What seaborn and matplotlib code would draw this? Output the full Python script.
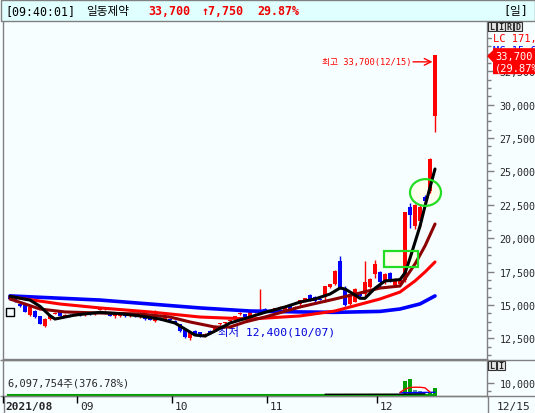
import matplotlib
matplotlib.use("Agg")
import matplotlib.pyplot as plt
from matplotlib.patches import Rectangle, Ellipse, Polygon
from matplotlib.ticker import AutoMinorLocator, FixedLocator, FuncFormatter
import numpy as np
import seaborn as sns

# 일동제약 daily candles, 2021/08 ~ 2021/12/15
opens = [15600, 15450, 15100, 15000, 14250, 14550, 14150, 13450, 13950, 14350,
         14450, 14200, 14250, 14200, 14300, 14250, 14350, 14300, 14650, 14700,
         14450, 14150, 14150, 14250, 14150, 14250, 14100, 14150, 14050, 13800,
         14050, 13900, 13950, 13800, 13550, 13150, 12550, 13050, 12950, 12650,
         13050, 13100, 13550, 13650, 13800, 13950, 14300, 14300, 14200, 14450,
         14450, 14700, 14550, 14500, 14750, 14550, 15000, 14750, 15050, 15250,
         15750, 15600, 15450, 15600, 16350, 16550, 18300, 16300, 15100, 15250,
         15850, 15800, 16350, 17300, 17450, 16700, 17400, 16500, 16600, 16900,
         22300, 20900, 21300, 23100, 23550, 29150]
highs = [15700, 15500, 15150, 15050, 14900, 14600, 14200, 14000, 14200, 14450,
         14500, 14300, 14300, 14350, 14350, 14400, 14400, 14450, 14800, 14850,
         14500, 14250, 14250, 14300, 14300, 14300, 14250, 14200, 14100, 14600,
         14100, 14050, 14000, 13850, 13600, 13200, 13050, 13100, 13000, 12900,
         13100, 13500, 13650, 13750, 13900, 14200, 14500, 14350, 14500, 14550,
         16200, 14750, 14600, 14800, 14900, 14950, 15050, 14900, 15400, 15550,
         15800, 15650, 15500, 16450, 16600, 17600, 18650, 16400, 15850, 16250,
         15900, 18300, 17000, 18400, 17550, 17400, 17500, 17000, 17000, 21950,
         22600, 22550, 22500, 23200, 26000, 33700]
lows = [15350, 15200, 14850, 14450, 14200, 14050, 13550, 13350, 13900, 14300,
        14150, 14150, 14150, 14150, 14200, 14200, 14250, 14250, 14600, 14650,
        14150, 14050, 14100, 14100, 14100, 14100, 14050, 13900, 13850, 13750,
        13900, 13850, 13800, 13550, 13000, 12550, 12400, 12800, 12600, 12600,
        12800, 13050, 13500, 13600, 13750, 13900, 14250, 14050, 14150, 14400,
        14400, 14450, 14450, 14450, 14700, 14500, 14650, 14700, 15000, 15200,
        15300, 15250, 15350, 15250, 16300, 16500, 16200, 14900, 15000, 15200,
        15600, 15700, 16300, 17050, 16300, 16600, 16700, 16400, 16500, 16700,
        20800, 20700, 20850, 22650, 23400, 27950]
closes = [15450, 15300, 14900, 14500, 14850, 14100, 13600, 13950, 14150, 14400,
          14200, 14250, 14200, 14300, 14250, 14350, 14300, 14400, 14700, 14750,
          14200, 14200, 14200, 14150, 14250, 14150, 14200, 13950, 13900, 14100,
          13950, 14000, 13850, 13600, 13050, 12600, 13000, 12850, 12650, 12850,
          12850, 13450, 13600, 13700, 13850, 14150, 14350, 14100, 14450, 14500,
          14600, 14500, 14500, 14750, 14850, 14900, 14700, 14850, 15350, 15500,
          15350, 15300, 15400, 16400, 16550, 17550, 16300, 15000, 15800, 16200,
          15650, 16700, 16950, 18050, 16700, 17300, 16800, 16900, 16900, 21950,
          21700, 22500, 22350, 22750, 25950, 33700]
# volume, thousand shares
volume = [350, 300, 420, 500, 450, 380, 520, 480, 300, 250, 230, 200, 190, 210,
          200, 180, 190, 260, 300, 240, 230, 180, 170, 160, 170, 150, 160, 210, 200, 320,
          190, 170, 180,
          230, 380, 460, 520, 300, 280, 250, 230, 330, 260, 240, 250, 300, 280, 250, 1200,
          260, 900, 350,
          280, 300, 320, 350, 330, 300, 420, 450, 400, 1100, 380, 1200, 1300, 900, 800, 700,
          500, 450, 380, 1100, 600, 700,
          600, 450, 400, 500, 450, 11700, 14000, 4500, 3500, 1500, 2200, 6098]

months = ["2021/08", "09", "10", "11", "12"]
days_in_month = [14, 19, 19, 22, 12]
last_date = "12/15"
hi_date = "12/15"
lo_date = "10/07"
today_volume = 6097754
volume_ratio = 376.78
change = 7750
change_pct = 29.87
limit_text = "LC 171,700"
mc_text = "MC 15,650"

# moving average lines (candle index, price)
ma5_x = [0, 4, 6, 8, 9, 11, 13, 18, 22, 26, 30, 33, 35, 37, 39, 41, 44, 48, 51, 55,
         58, 61, 64, 66, 67, 69, 70, 71, 73, 75, 78, 79, 80, 81, 82, 83, 84, 85]
ma5_y = [15650, 15370, 14900, 14200, 13950, 14100, 14250, 14450, 14350, 14180, 13950,
         13650, 13200, 12750, 12680, 13050, 13650, 14100, 14450, 14850, 15220, 15450,
         15820, 16270, 16200, 15750, 15500, 15500, 16250, 16800, 16900, 17400, 18500,
         19700, 20900, 22400, 23800, 25180]
ma20_x = [0, 6, 11, 18, 26, 32, 36, 41, 44, 47, 51, 58, 65, 70, 74, 78, 81, 83, 85]
ma20_y = [15450, 14700, 14480, 14400, 14330, 14100, 13730, 13350, 13350, 13730, 14100,
          14850, 15450, 15900, 16270, 16420, 18070, 19420, 21060]
ma60_x = [0, 10, 18, 28, 38, 48, 58, 65, 74, 78, 81, 83, 85]
ma60_y = [15620, 15075, 14780, 14480, 14100, 13950, 14180, 14550, 15450, 15970, 16800,
          17470, 18220]
ma120_x = [0, 18, 38, 48, 58, 65, 74, 78, 82, 85]
ma120_y = [15680, 15370, 14780, 14550, 14480, 14450, 14520, 14700, 15080, 15680]

vol_red_x = [78, 79, 80, 81, 82, 83, 84]
vol_red_y = [2500, 5200, 6600, 6800, 6800, 6300, 2800]
vol_blk_x = [63, 78, 83]
vol_blk_y = [900, 1000, 1300]
vol_blu_x = [78, 85]
vol_blu_y = [2200, 2600]

# hand-drawn green marks on the screen
box_x = [74.8, 81.6]
box_y = [17850, 19050]
ring_xy = (83.1, 23420)
ring_wh = (6.2, 2000)
mark_x = [0]
mark_y = [14480]

sns.set_theme(style="white")
plt.rcParams["font.family"] = ["DejaVu Sans Mono", "Noto Sans CJK KR"]

RED = "#ff0000"
BLUE = "#0000ff"
DKRED = "#8b0000"
GRAY = "#808080"
BG = "#f7feff"
GREEN = "#22dd22"

W, H = 535, 414
fig = plt.figure(figsize=(W / 100, H / 100), dpi=100, facecolor=BG)


def rect(x0, y0, x1, y1):
    return [x0 / W, 1 - y1 / H, (x1 - x0) / W, (y1 - y0) / H]


o, h, l, c = map(np.array, (opens, highs, lows, closes))
idx = np.arange(len(c))
col = np.where(c >= o, RED, BLUE)
XL = (-1.4, 95.4)

# price panel
ax = fig.add_axes(rect(3, 22, 487, 360))
ax.set_facecolor(BG)
ax.vlines(idx, l, h, colors=col, lw=1, zorder=3)
ax.bar(idx, np.maximum(np.abs(c - o), 80), bottom=np.minimum(o, c), width=0.65,
       color=col, linewidth=0, zorder=3)
for xs, ys, colr, lw in [(ma120_x, ma120_y, BLUE, 2.6), (ma60_x, ma60_y, RED, 2.2),
                         (ma20_x, ma20_y, DKRED, 2.2), (ma5_x, ma5_y, "black", 2.2)]:
    sns.lineplot(x=xs, y=ys, ax=ax, color=colr, linewidth=lw, zorder=4)

ax.add_patch(Rectangle((box_x[0], box_y[0]), box_x[1] - box_x[0], box_y[1] - box_y[0],
                       facecolor="#fffff0", edgecolor="none", zorder=1))
ax.add_patch(Rectangle((box_x[0], box_y[0]), box_x[1] - box_x[0], box_y[1] - box_y[0],
                       facecolor="none", edgecolor=GREEN, lw=1.6, zorder=6))
ax.add_patch(Ellipse(ring_xy, *ring_wh, facecolor="#fffff0", edgecolor="none", zorder=1))
ax.add_patch(Ellipse(ring_xy, *ring_wh, facecolor="none", edgecolor=GREEN, lw=1.6, zorder=6))
ax.scatter(mark_x, mark_y, marker="s", s=40, facecolors="none", edgecolors="black",
           linewidths=1, zorder=5)

hi = int(np.argmax(h))
lo = int(np.argmin(l))
ya = h[hi] - 500
ax.annotate("", xy=(hi - 0.5, ya), xytext=(hi - 4.4, ya),
            arrowprops=dict(arrowstyle="->", color=RED, lw=1, shrinkA=0, shrinkB=0))
ax.text(hi - 4.6, ya, f"최고 {h[hi]:,}({hi_date})", color=RED, fontsize=6.3,
        ha="right", va="center")
ax.text(lo + 5.6, l[lo] + 700, f"최저 {l[lo]:,}({lo_date})", color="#0000dd",
        fontsize=8.2, ha="left", va="center", zorder=3.5)

ax.set_xlim(*XL)
ax.set_ylim(10958, 36257)
ax.set_xticks([])
ax.yaxis.tick_right()
ax.set_yticks(np.arange(12500, 36000, 2500))
ax.yaxis.set_major_formatter(FuncFormatter(lambda v, p: f"{int(v):,}"))
ax.yaxis.set_minor_locator(AutoMinorLocator(4))
ax.tick_params(axis="y", which="both", right=True, left=False, labelright=True,
               labelleft=False, color=GRAY, width=1)
ax.tick_params(axis="y", which="major", length=5, pad=4, labelsize=7.2)
ax.tick_params(axis="y", which="minor", length=3)
ax.spines["top"].set_visible(False)
for s in ["left", "right", "bottom"]:
    ax.spines[s].set_color(GRAY)
    ax.spines[s].set_linewidth(1)
ax.set_xlabel("")
ax.set_ylabel("")

# volume panel
vx = fig.add_axes(rect(3, 361, 487, 397))
vx.set_facecolor(BG)
vol = np.array(volume)
vcol = ["#00a000" if i == 0 or vol[i] >= vol[i - 1] else "#4f9a9a" for i in idx]
vx.bar(idx, vol, width=0.65, color=vcol, linewidth=0, zorder=3)
vx.hlines(0, -0.5, len(vol) - 0.5, color="#00a000", lw=1.5, zorder=3)
sns.lineplot(x=vol_blk_x, y=vol_blk_y, ax=vx, color="black", linewidth=1, zorder=4)
sns.lineplot(x=vol_blu_x, y=vol_blu_y, ax=vx, color=BLUE, linewidth=1, zorder=4)
sns.lineplot(x=vol_red_x, y=vol_red_y, ax=vx, color=RED, linewidth=1, zorder=4)
vx.set_xlim(*XL)
vx.set_ylim(-500, 29500)
vx.set_xticks([])
vx.yaxis.tick_right()
vx.set_yticks([10000])
vx.yaxis.set_major_formatter(FuncFormatter(lambda v, p: f"{int(v):,}"))
vx.yaxis.set_minor_locator(FixedLocator([4000]))
vx.tick_params(axis="y", which="both", right=True, left=False, labelright=True,
               labelleft=False, color=GRAY, width=1)
vx.tick_params(axis="y", which="major", length=5, pad=4, labelsize=7.2)
vx.tick_params(axis="y", which="minor", length=3)
for s in vx.spines.values():
    s.set_color(GRAY)
    s.set_linewidth(1)
vx.set_xlabel("")
vx.set_ylabel("")

# overlay in screen pixels (top-left origin)
ov = fig.add_axes([0, 0, 1, 1], zorder=10)
ov.set_xlim(0, W)
ov.set_ylim(H, 0)
ov.axis("off")
ov.patch.set_alpha(0)

ov.add_patch(Rectangle((0.5, 0.5), W - 1, 21.5, facecolor="#e0ffff", edgecolor=GRAY, lw=1))
hy = 11.5
ov.text(5, hy, "[09:40:01]", va="center", fontsize=8.4, color="black")
ov.text(86, hy, "일동제약", va="center", fontsize=8.4, color="black")
ov.text(148, hy, f"{c[-1]:,}", va="center", fontsize=8.4, color="#ee0000", weight="bold")
ov.text(202, hy, f"↑{change:,}", va="center", fontsize=8.4, color="#ee0000", weight="bold")
ov.text(257, hy, f"{change_pct:.2f}%", va="center", fontsize=8.4, color="#ee0000", weight="bold")
ov.text(503, hy, "[일]", va="center", fontsize=8.4, color="black")

# right panel labels
for k, ch in enumerate("LIRD"):
    ov.add_patch(Rectangle((488 + 8.5 * k, 23), 8, 9, facecolor="#e6e6e6",
                           edgecolor="#303030", lw=0.8))
    ov.text(492 + 8.5 * k, 27.8, ch, ha="center", va="center", fontsize=6, weight="bold")
for k, ch in enumerate("LI"):
    ov.add_patch(Rectangle((488 + 8.5 * k, 362), 8, 9, facecolor="#e6e6e6",
                           edgecolor="#303030", lw=0.8))
    ov.text(492 + 8.5 * k, 366.8, ch, ha="center", va="center", fontsize=6, weight="bold")

ov.text(493, 39, limit_text, color=RED, fontsize=7.5, va="center",
        bbox=dict(facecolor=BG, edgecolor="none", pad=0.5))
py = H - ax.transData.transform((0, c[-1]))[1]
ov.text(493, py - 5, mc_text, color=BLUE, fontsize=7.5, va="center", zorder=4,
        bbox=dict(facecolor=BG, edgecolor="none", pad=0.3))
ov.add_patch(Polygon([(487, py + 1), (493, py - 5), (493, py - 7), (536, py - 7),
                      (536, py + 19), (493, py + 19), (493, py + 7)],
                     closed=True, facecolor=RED, edgecolor="none", zorder=5))
ov.text(495, py + 0.5, f"{c[-1]:,}", color="white", fontsize=7.5, va="center", zorder=6)
ov.text(495, py + 12, f"({change_pct:.2f}%)", color="white", fontsize=7.5, va="center", zorder=6)

ov.text(7, 384, f"{today_volume:,}주({volume_ratio:.2f}%)", fontsize=7.5, va="center")

# separators and date strip
ov.hlines([360.5, 397.5], 0, W, color=GRAY, lw=1)
ov.vlines([3.5, 487.5], 397, H, color=GRAY, lw=1)
starts = np.cumsum([0] + days_in_month[:-1])
tick_pos = [XL[0]] + [s - 0.5 for s in starts[1:]]
for k, (pos, lab) in enumerate(zip(tick_pos, months)):
    px = ax.transData.transform((pos, 0))[0]
    ov.vlines(px, 397, 404, color="black", lw=1)
    ov.text(px + 2.5, 407, lab, fontsize=8, va="center",
            weight="bold" if k == 0 else "normal")
ov.text(497, 407, last_date, fontsize=8, va="center")

fig.savefig("out.png", dpi=100, facecolor=BG)
